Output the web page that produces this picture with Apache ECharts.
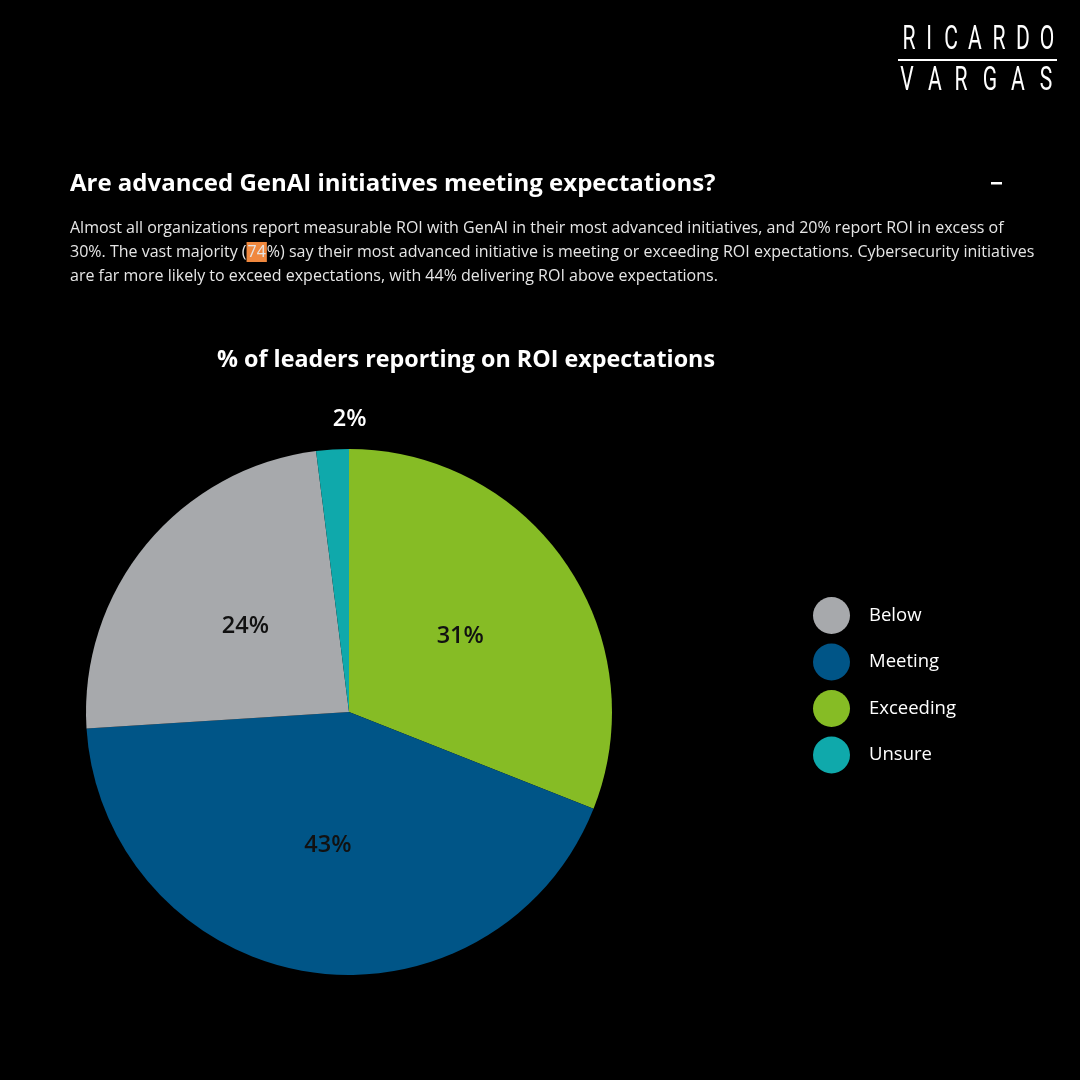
<!DOCTYPE html>
<html>
<head>
<meta charset="utf-8">
<script src="https://cdn.jsdelivr.net/npm/echarts@6/dist/echarts.min.js"></script>
<style>
html,body{margin:0;padding:0;background:#000;}
#c{width:1080px;height:1080px;}
</style>
</head>
<body>
<div id="c"></div>
<script>
// ---- data ----
const categories = ['Exceeding', 'Meeting', 'Below', 'Unsure']; // clockwise from top
const values = [31, 43, 24, 2];
const legendOrder = ['Below', 'Meeting', 'Exceeding', 'Unsure'];
const colors = {Below:'#a7a9ac', Meeting:'#005587', Exceeding:'#86bc25', Unsure:'#0fa9ab'};
const headline = 'Are advanced GenAI initiatives meeting expectations?';
const chartTitle = '% of leaders reporting on ROI expectations';
const bodyLines = [
  'Almost all organizations report measurable ROI with GenAI in their most advanced initiatives, and 20% report ROI in excess of',
  '30%. The vast majority ({hl|74}%) say their most advanced initiative is meeting or exceeding ROI expectations. Cybersecurity initiatives',
  'are far more likely to exceed expectations, with 44% delivering ROI above expectations.'
];
const logoTop = ['R','I','C','A','R','D','O'];
const logoBottom = ['V','A','R','G','A','S'];

const chart = echarts.init(document.getElementById('c'));
const FONT = '"Open Sans", "Noto Sans", sans-serif';

const graphics = [];
// headline
graphics.push({type:'text', x:70, y:184, style:{text:headline, fill:'#fff', font:'bold 24px ' + FONT, textVerticalAlign:'middle'}});
graphics.push({type:'rect', shape:{x:991, y:182, width:11, height:2.5}, style:{fill:'#fff'}});
// body
bodyLines.forEach((t, i) => {
  graphics.push({type:'text', x:70, y:228 + i*24, style:{
    text:t, fill:'#e6e6e6', fontFamily:FONT, fontSize:16, textVerticalAlign:'middle',
    rich:{hl:{backgroundColor:'#f0883e', color:'#333', fontFamily:FONT, fontSize:16, padding:[2,1,2,1]}}
  }});
});
// chart title
graphics.push({type:'text', x:466, y:360, style:{text:chartTitle, fill:'#fff', font:'bold 23.3px ' + FONT, textAlign:'center', textVerticalAlign:'middle'}});
// logo
const topX = [909, 929, 951, 975, 999, 1023, 1047];
const botX = [907, 935, 961, 990, 1018, 1046];
logoTop.forEach((ch, i) => graphics.push({type:'text', x:topX[i], y:40, scaleX:0.62, style:{text:ch, fill:'#fff', font:'34px Roboto, sans-serif', textAlign:'center', textVerticalAlign:'middle'}}));
graphics.push({type:'rect', shape:{x:898, y:59, width:159, height:2}, style:{fill:'#fff'}});
logoBottom.forEach((ch, i) => graphics.push({type:'text', x:botX[i], y:81, scaleX:0.62, style:{text:ch, fill:'#fff', font:'34px Roboto, sans-serif', textAlign:'center', textVerticalAlign:'middle'}}));

const pieData = categories.map((c, i) => {
  const d = {name:c, value:values[i], itemStyle:{color:colors[c]}};
  if (c === 'Unsure') {
    d.label = {position:'outside', color:'#fff', distance:18};
    d.labelLine = {show:false};
  }
  return d;
});

chart.setOption({
  backgroundColor:'#000',
  animation:false,
  graphic:graphics,
  legend:{
    data:legendOrder,
    orient:'vertical',
    left:808, top:592,
    icon:'circle',
    itemWidth:37, itemHeight:37, itemGap:9.5,
    textStyle:{color:'#fff', fontSize:18.5, fontFamily:FONT, padding:[0,0,0,14]},
    selectedMode:false
  },
  series:[{
    type:'pie',
    center:[349, 712],
    radius:263,
    startAngle:90,
    clockwise:true,
    avoidLabelOverlap:false,
    itemStyle:{borderWidth:0},
    label:{show:true, position:'inside', formatter:'{c}%', color:'#111', fontSize:23.5, fontWeight:600, fontFamily:FONT},
    labelLine:{show:false},
    labelLayout:function(p){ return p.dataIndex === 3 ? {dx:70, dy:-15} : {}; },
    emphasis:{disabled:true},
    data:pieData
  }]
});
</script>
</body>
</html>
